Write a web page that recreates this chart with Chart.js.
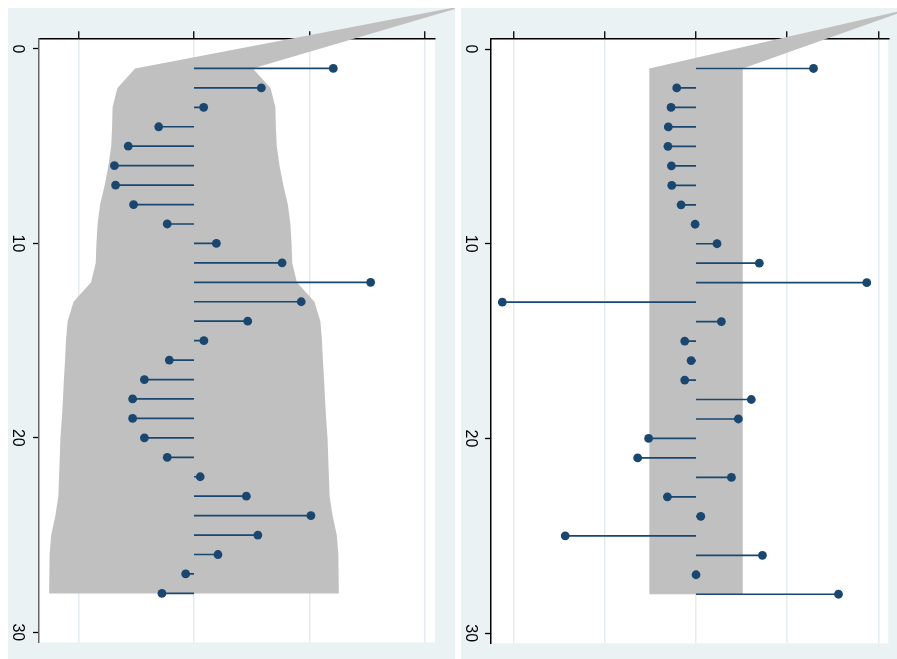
<!DOCTYPE html>
<html><head><meta charset="utf-8">
<script src="https://cdn.jsdelivr.net/npm/chart.js@4.4.1/dist/chart.umd.min.js"></script>
<style>
html,body{margin:0;padding:0;background:#fff;width:897px;height:659px;overflow:hidden;}
.panel{position:absolute;top:8px;height:651px;background:#eaf2f3;}
#p1{left:8px;width:447px;}
#p2{left:461px;width:436px;}
canvas{display:block;}
</style></head><body>
<div class="panel" id="p1"><canvas id="c1" width="447" height="651"></canvas></div>
<div class="panel" id="p2"><canvas id="c2" width="436" height="651"></canvas></div>
<script>
// ---- data ----
const lags = [1,2,3,4,5,6,7,8,9,10,11,12,13,14,15,16,17,18,19,20,21,22,23,24,25,26,27,28];
const acf = [0.604,0.292,0.042,-0.153,-0.285,-0.345,-0.340,-0.262,-0.116,0.097,
             0.382,0.766,0.465,0.233,0.043,-0.107,-0.215,-0.266,-0.266,-0.215,
             -0.116,0.027,0.227,0.507,0.277,0.104,-0.036,-0.139];
const acfBand = [0.255,0.332,0.353,0.355,0.359,0.371,0.387,0.407,0.418,0.423,
                 0.426,0.446,0.522,0.548,0.555,0.559,0.564,0.568,0.573,0.579,
                 0.582,0.585,0.588,0.601,0.619,0.626,0.627,0.628];
// band extension beyond lag 1 : [lag, value]
const acfBandTop = [[-2.06, 1.131], [-2.14, 1.131]];
const pacf = [0.644,-0.106,-0.137,-0.152,-0.154,-0.135,-0.133,-0.082,-0.005,0.115,
              0.347,0.936,-1.062,0.139,-0.062,-0.027,-0.062,0.303,0.232,-0.260,
              -0.320,0.194,-0.157,0.026,-0.717,0.364,0.000,0.781];
const pacfBand = [0.256,0.256,0.256,0.256,0.256,0.256,0.256,0.256,0.256,0.256,
                  0.256,0.256,0.256,0.256,0.256,0.256,0.256,0.256,0.256,0.256,
                  0.256,0.256,0.256,0.256,0.256,0.256,0.256,0.256];
const pacfBandTop = [[-1.81, 1.102], [-1.92, 1.102]];
const lagTicks = [0,10,20,30];
const acfTicks = [-0.5,0,0.5,1];
const pacfTicks = [-1,-0.5,0,0.5,1];

const NAVY = '#1a476f';

function bandPolygon(band, top){
  const pts = [];
  lags.forEach((l,i)=>pts.push([-band[i], l]));
  for (let i=lags.length-1;i>=0;i--) pts.push([band[i], lags[i]]);
  top.forEach(p=>pts.push([p[1], p[0]]));
  return pts;
}

const plotBg = {
  id:'plotBg',
  beforeDraw(chart){
    const {ctx, chartArea:a} = chart;
    ctx.save(); ctx.fillStyle='#ffffff';
    ctx.fillRect(a.left, a.top, a.right-a.left, a.bottom-a.top);
    ctx.restore();
  }
};
const bandPlugin = {
  id:'band',
  beforeDatasetsDraw(chart, args, opts){
    const pts = opts.poly; if(!pts) return;
    const {ctx, scales:{x, y}} = chart;
    ctx.save(); ctx.fillStyle='#c0c0c0';
    ctx.beginPath();
    pts.forEach((p,i)=>{
      const px = x.getPixelForValue(p[0]), py = y.getPixelForValue(p[1]);
      if(i===0) ctx.moveTo(px,py); else ctx.lineTo(px,py);
    });
    ctx.closePath(); ctx.fill(); ctx.restore();
  }
};

function make(id, vals, band, top, xmin, xmax, xticks, cfg){
  const stems = [];
  lags.forEach((l,i)=>{ stems.push({x:0,y:l}); stems.push({x:vals[i],y:l}); stems.push({x:null,y:null}); });
  const pts = lags.map((l,i)=>({x:vals[i], y:l}));
  return new Chart(document.getElementById(id), {
    type:'scatter',
    data:{datasets:[
      {data:stems, showLine:true, spanGaps:false, borderColor:NAVY, borderWidth:1.7, pointRadius:0, pointHoverRadius:0},
      {data:pts, showLine:false, pointRadius:4.4, pointHoverRadius:4.4, backgroundColor:NAVY, borderWidth:0}
    ]},
    plugins:[plotBg, bandPlugin],
    options:{
      responsive:false, animation:false, events:[],
      layout:{padding:{top:0,left:0,right:cfg.padRight,bottom:15.7}},
      plugins:{legend:{display:false}, tooltip:{enabled:false}, band:{poly:bandPolygon(band, top)}},
      scales:{
        x:{type:'linear', position:'top', min:xmin, max:xmax,
           afterBuildTicks:s=>{ s.ticks = xticks.map(v=>({value:v})); },
           ticks:{display:false},
           grid:{color:'#e4ecef', lineWidth:1.5, drawTicks:true, tickLength:7, tickColor:'#000', tickWidth:1.3},
           border:{display:true, color:'#000', width:1.5},
           afterFit:s=>{ s.height = 30.3; }},
        y:{type:'linear', position:'left', reverse:true, min:-0.55, max:30.52,
           afterBuildTicks:s=>{ s.ticks = lagTicks.map(v=>({value:v})); },
           ticks:{display:true, color:'#000', font:{family:'"Liberation Sans", Arial, sans-serif', size:16},
                  minRotation:-90, maxRotation:-90, crossAlign:'center', padding:cfg.labPad},
           grid:{drawOnChartArea:false, drawTicks:true, tickLength:6, tickColor:'#000', tickWidth:1.3},
           border:{display:true, color:cfg.axisColor, width:1.5},
           afterFit:s=>{ s.width = cfg.yw; }}
      }
    }
  });
}

make('c1', acf, acfBand, acfBandTop, -0.672, 1.045, acfTicks, {padRight:20, labPad:7, yw:31, axisColor:'#666'});
make('c2', pacf, pacfBand, pacfBandTop, -1.124, 1.054, pacfTicks, {padRight:8.7, labPad:6, yw:30, axisColor:'#000'});
</script>
</body></html>
